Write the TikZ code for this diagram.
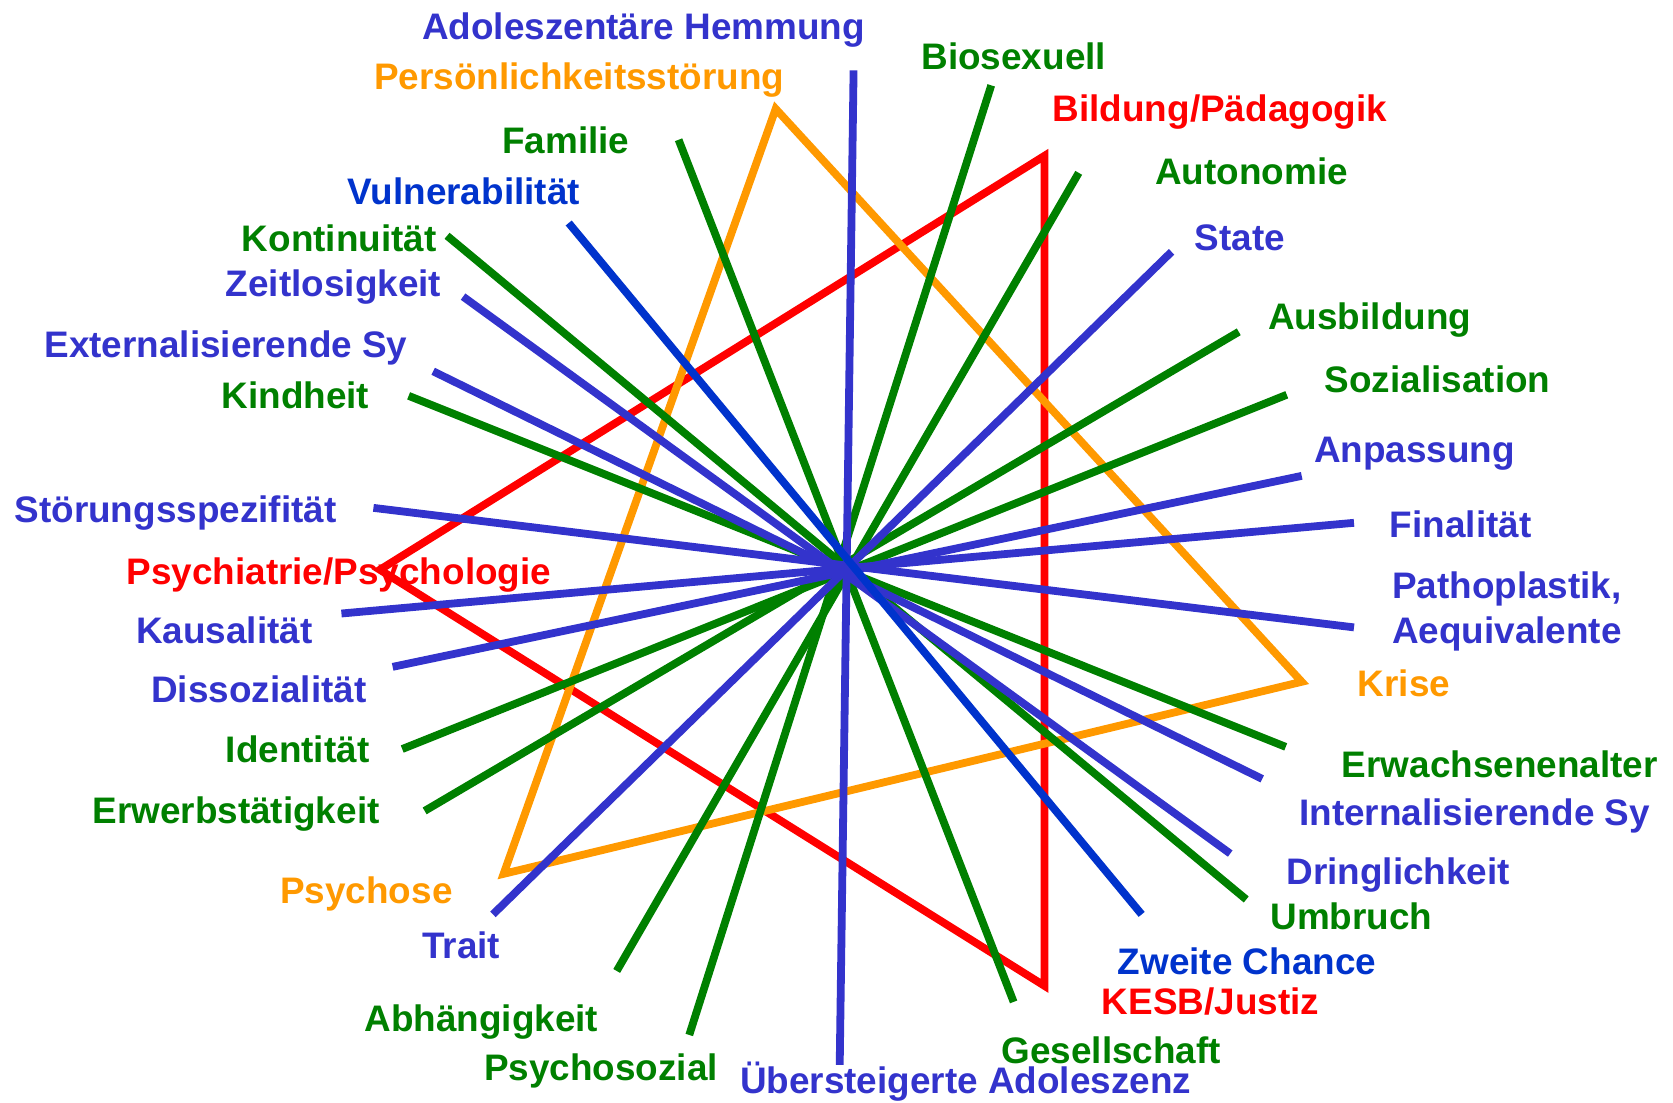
\documentclass[tikz,border=0pt]{standalone}
\usepackage{fontspec}
\setmainfont{Liberation Sans}
\usepackage{xcolor}
\usepackage{tikz}
\definecolor{cblue}{HTML}{3333CC}
\definecolor{dblue}{HTML}{0033CC}
\definecolor{cgreen}{HTML}{008000}
\definecolor{cred}{HTML}{FF0000}
\definecolor{corange}{HTML}{FF9900}

\begin{document}
\begin{tikzpicture}[x=0.1067mm, y=-0.1067mm,
  lbl/.style={anchor=base west, inner sep=0pt, align=left, font=\fontsize{10.5}{12.7}\selectfont\bfseries},
  ray/.style={line width=0.78mm},
  tri/.style={line width=0.78mm, line join=miter}]
  \useasboundingbox (0,0) rectangle (1568,1033);
  % end points of the rays
  \coordinate (e-hem) at (800,66);    \coordinate (e-ueb) at (787,998);
  \coordinate (e-zeit) at (434,278);  \coordinate (e-dring) at (1153,800);
  \coordinate (e-ext) at (406,348);   \coordinate (e-int) at (1183,730);
  \coordinate (e-stoer) at (350,476); \coordinate (e-path) at (1269,588);
  \coordinate (e-kaus) at (320,575);  \coordinate (e-fin) at (1269,490);
  \coordinate (e-diss) at (368,625);  \coordinate (e-anp) at (1220,446);
  \coordinate (e-trait) at (462,857); \coordinate (e-state) at (1098,236);
  \coordinate (e-vuln) at (533,209);  \coordinate (e-zwei) at (1070,857);
  \coordinate (e-fam) at (636,131);   \coordinate (e-ges) at (950,939);
  \coordinate (e-bio) at (929,80);    \coordinate (e-psoz) at (646,970);
  \coordinate (e-auto) at (1011,162); \coordinate (e-abh) at (578,910);
  \coordinate (e-ausb) at (1161,311); \coordinate (e-erwerb) at (398,760);
  \coordinate (e-soz) at (1206,370);  \coordinate (e-ident) at (377,702);
  \coordinate (e-kont) at (419,221);  \coordinate (e-umb) at (1168,843);
  \coordinate (e-kind) at (383,371);  \coordinate (e-erwa) at (1205,700);
  % triangle corners
  \coordinate (e-bild) at (979,146); \coordinate (e-psy) at (356,534); \coordinate (e-kesb) at (979,924);
  \coordinate (e-pers) at (727,102); \coordinate (e-krise) at (1220,639); \coordinate (e-psych) at (472,819);

  \draw[tri,cred] (e-bild) -- (e-psy) -- (e-kesb) -- cycle;
  \draw[tri,corange] (e-pers) -- (e-krise) -- (e-psych) -- cycle;

  \draw[ray,cgreen] (e-fam) -- (e-ges);   \draw[ray,cgreen] (e-bio) -- (e-psoz);
  \draw[ray,cgreen] (e-auto) -- (e-abh);  \draw[ray,cgreen] (e-ausb) -- (e-erwerb);
  \draw[ray,cgreen] (e-soz) -- (e-ident); \draw[ray,cgreen] (e-kont) -- (e-umb);
  \draw[ray,cgreen] (e-kind) -- (e-erwa);
  \draw[ray,cblue] (e-zeit) -- (e-dring); \draw[ray,cblue] (e-ext) -- (e-int);
  \draw[ray,cblue] (e-stoer) -- (e-path); \draw[ray,cblue] (e-kaus) -- (e-fin);
  \draw[ray,cblue] (e-diss) -- (e-anp);   \draw[ray,cblue] (e-trait) -- (e-state);
  \draw[ray,cblue] (e-hem) -- (e-ueb);
  \draw[ray,dblue] (e-vuln) -- (e-zwei);

  % labels
  \node[lbl,cblue] (hem) at (395,37) {Adoleszentäre Hemmung};
  \node[lbl,corange] (pers) at (350,84) {Persönlichkeitsstörung};
  \node[lbl,cgreen] (bio) at (863,65) {Biosexuell};
  \node[lbl,cred] (bild) at (986,114) {Bildung/Pädagogik};
  \node[lbl,cgreen] (fam) at (470,144) {Familie};
  \node[lbl,cgreen] (auto) at (1082,173) {Autonomie};
  \node[lbl,dblue] (vuln) at (325,192) {Vulnerabilität};
  \node[lbl,cgreen] (kont) at (226,236) {Kontinuität};
  \node[lbl,cblue] (state) at (1119,235) {State};
  \node[lbl,cblue] (zeit) at (211,278) {Zeitlosigkeit};
  \node[lbl,cgreen] (ausb) at (1188,309) {Ausbildung};
  \node[lbl,cblue] (ext) at (41,335) {Externalisierende Sy};
  \node[lbl,cgreen] (soz) at (1241,368) {Sozialisation};
  \node[lbl,cgreen] (kind) at (207,383) {Kindheit};
  \node[lbl,cblue] (anp) at (1231,433) {Anpassung};
  \node[lbl,cblue] (stoer) at (13,490) {Störungsspezifität};
  \node[lbl,cblue] (fin) at (1302,504) {Finalität};
  \node[lbl,cred] (psy) at (118,548) {Psychiatrie/Psychologie};
  \node[lbl,cblue] (path) at (1304,603) {Pathoplastik,\\Aequivalente};
  \node[lbl,cblue] (kaus) at (127,603) {Kausalität};
  \node[lbl,corange] (krise) at (1272,653) {Krise};
  \node[lbl,cblue] (diss) at (141,658) {Dissozialität};
  \node[lbl,cgreen] (ident) at (211,715) {Identität};
  \node[lbl,cgreen] (erwa) at (1257,729) {Erwachsenenalter};
  \node[lbl,cgreen] (erwerb) at (86,772) {Erwerbstätigkeit};
  \node[lbl,cblue] (int) at (1217,774) {Internalisierende Sy};
  \node[lbl,cblue] (dring) at (1205,829) {Dringlichkeit};
  \node[lbl,corange] (psych) at (262,847) {Psychose};
  \node[lbl,cgreen] (umb) at (1190,871) {Umbruch};
  \node[lbl,cblue] (trait) at (395,898) {Trait};
  \node[lbl,dblue] (zwei) at (1047,913) {Zweite Chance};
  \node[lbl,cred] (kesb) at (1032,951) {KESB/Justiz};
  \node[lbl,cgreen] (abh) at (341,967) {Abhängigkeit};
  \node[lbl,cgreen] (ges) at (938,997) {Gesellschaft};
  \node[lbl,cgreen] (psoz) at (453,1013) {Psychosozial};
  \node[lbl,cblue] (ueb) at (693,1025) {Übersteigerte Adoleszenz};
\end{tikzpicture}
\end{document}
